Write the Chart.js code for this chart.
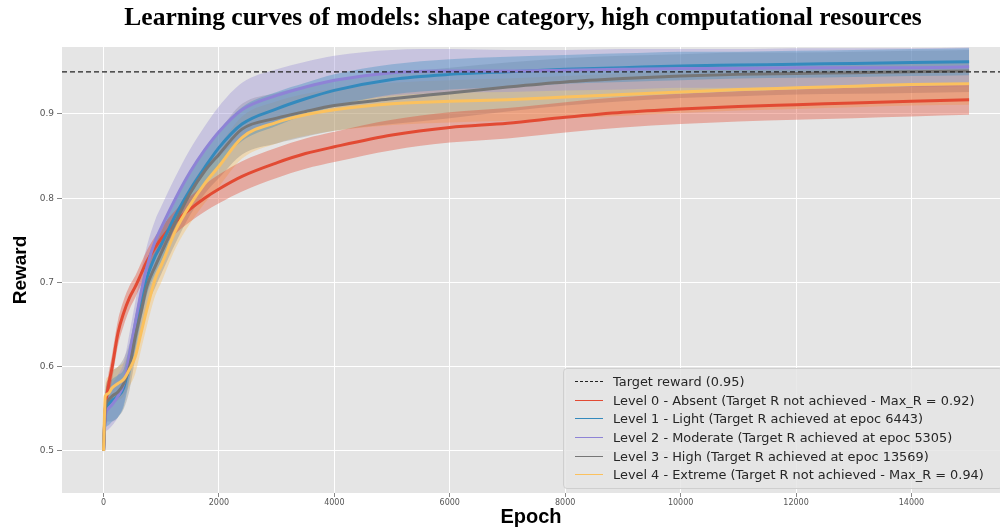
<!DOCTYPE html>
<html>
<head>
<meta charset="utf-8">
<script src="https://cdn.jsdelivr.net/npm/chart.js@4.4.1/dist/chart.umd.min.js"></script>
<style>
  html, body { margin: 0; padding: 0; background: #ffffff; }
  #wrap { position: relative; width: 1000px; height: 531px; overflow: hidden; }
  #title { position: absolute; left: 0; top: 3px; width: 1046px; height: 28px; line-height: 28px;
           text-align: center; font-family: "Liberation Serif", serif; font-weight: bold; font-size: 25.5px; color: #000; }
  #legend { position: absolute; left: 563px; top: 368px; width: 440px; height: 121px; box-sizing: border-box;
            border: 1px solid #cfcfcf; border-radius: 4px; background: rgba(229,229,229,0.85);
            padding-top: 3px; font-family: "DejaVu Sans", sans-serif; font-size: 12.9px; color: #262626; }
  .row { height: 18.7px; display: flex; align-items: center; white-space: nowrap; }
  .handle { width: 28px; margin-left: 11px; margin-right: 10px; height: 0; }
</style>
</head>
<body>
<div id="wrap">
  <canvas id="c" width="1000" height="531"></canvas>
  <div id="title">Learning curves of models: shape category, high computational resources</div>
  <div id="legend"></div>
</div>
<script>
// ---------- DATA ----------
const epochs = [0, 30, 80, 150, 250, 350, 450, 550, 650, 750, 900, 1000, 1250, 1500, 1750, 2000, 2400, 3000, 3500, 4000, 5000, 6000, 7000, 8000, 9000, 10000, 11000, 12000, 13000, 14000, 15000];

const level0Mean = [0.50, 0.55, 0.575, 0.60, 0.64, 0.664, 0.682, 0.695, 0.710, 0.725, 0.742, 0.752, 0.772, 0.787, 0.800, 0.811, 0.826, 0.842, 0.853, 0.861, 0.875, 0.884, 0.889, 0.896, 0.902, 0.906, 0.909, 0.911, 0.913, 0.915, 0.917];
const level1Mean = [0.50, 0.545, 0.555, 0.56, 0.565, 0.575, 0.605, 0.64, 0.675, 0.705, 0.732, 0.745, 0.780, 0.810, 0.836, 0.860, 0.888, 0.906, 0.918, 0.928, 0.941, 0.947, 0.950, 0.953, 0.955, 0.957, 0.958, 0.959, 0.960, 0.961, 0.962];
const level2Mean = [0.50, 0.54, 0.55, 0.555, 0.565, 0.58, 0.615, 0.652, 0.688, 0.718, 0.75, 0.765, 0.800, 0.831, 0.857, 0.879, 0.905, 0.922, 0.932, 0.940, 0.949, 0.951, 0.951, 0.952, 0.953, 0.954, 0.954, 0.955, 0.955, 0.955, 0.956];
const level3Mean = [0.50, 0.55, 0.56, 0.565, 0.57, 0.58, 0.60, 0.635, 0.665, 0.695, 0.720, 0.735, 0.772, 0.806, 0.832, 0.852, 0.882, 0.895, 0.903, 0.910, 0.918, 0.925, 0.932, 0.938, 0.942, 0.945, 0.947, 0.948, 0.949, 0.950, 0.951];
const level4Mean = [0.50, 0.565, 0.568, 0.575, 0.58, 0.585, 0.597, 0.612, 0.64, 0.668, 0.705, 0.720, 0.762, 0.792, 0.817, 0.838, 0.872, 0.890, 0.899, 0.905, 0.912, 0.915, 0.917, 0.920, 0.923, 0.926, 0.929, 0.931, 0.933, 0.935, 0.936];

const level0Std = [0.003, 0.012, 0.014, 0.015, 0.015, 0.015, 0.014, 0.013, 0.013, 0.013, 0.013, 0.013, 0.014, 0.015, 0.016, 0.017, 0.018, 0.018, 0.018, 0.018, 0.018, 0.018, 0.018, 0.018, 0.018, 0.018, 0.018, 0.018, 0.018, 0.018, 0.018];
const level1Std = [0.003, 0.02, 0.025, 0.025, 0.025, 0.022, 0.02, 0.02, 0.02, 0.02, 0.02, 0.02, 0.02, 0.02, 0.02, 0.02, 0.02, 0.02, 0.019, 0.019, 0.018, 0.018, 0.018, 0.017, 0.017, 0.017, 0.016, 0.016, 0.016, 0.016, 0.016];
const level2Std = [0.003, 0.02, 0.025, 0.025, 0.025, 0.025, 0.025, 0.025, 0.025, 0.025, 0.025, 0.025, 0.026, 0.027, 0.028, 0.03, 0.032, 0.031, 0.03, 0.029, 0.027, 0.026, 0.025, 0.024, 0.024, 0.023, 0.023, 0.023, 0.023, 0.023, 0.023];
const level3Std = [0.003, 0.02, 0.025, 0.03, 0.03, 0.03, 0.028, 0.025, 0.025, 0.025, 0.025, 0.025, 0.025, 0.026, 0.027, 0.028, 0.03, 0.03, 0.03, 0.03, 0.03, 0.03, 0.029, 0.028, 0.027, 0.026, 0.026, 0.025, 0.025, 0.025, 0.025];
const level4Std = [0.003, 0.015, 0.02, 0.02, 0.02, 0.02, 0.02, 0.02, 0.02, 0.02, 0.02, 0.02, 0.021, 0.022, 0.023, 0.024, 0.025, 0.025, 0.025, 0.025, 0.025, 0.025, 0.025, 0.025, 0.025, 0.025, 0.025, 0.025, 0.025, 0.025, 0.025];

const targetReward = 0.95;
const seriesLabels = [
  "Level 0 - Absent (Target R not achieved - Max_R = 0.92)",
  "Level 1 - Light (Target R achieved at epoc 6443)",
  "Level 2 - Moderate (Target R achieved at epoc 5305)",
  "Level 3 - High (Target R achieved at epoc 13569)",
  "Level 4 - Extreme (Target R not achieved - Max_R = 0.94)"
];
const targetLabel = "Target reward (0.95)";
const xTicks = [0, 2000, 4000, 6000, 8000, 10000, 12000, 14000];
const yTicks = [0.5, 0.6, 0.7, 0.8, 0.9];

// ---------- STYLE ----------
const lineColors = ["#E24A33", "#348ABD", "#8E83D6", "#777777", "#FBC15E"];
const fillColors = ["rgba(226,74,51,0.38)", "rgba(52,138,189,0.35)", "rgba(152,142,213,0.38)", "rgba(119,119,119,0.30)", "rgba(251,193,94,0.38)"];
const X_MIN = -720, X_MAX = 15535, Y_MIN = 0.45, Y_MAX = 0.9795;

const means = [level0Mean, level1Mean, level2Mean, level3Mean, level4Mean];
const stds = [level0Std, level1Std, level2Std, level3Std, level4Std];

const datasets = [];
means.forEach((m, i) => {
  const s = stds[i];
  datasets.push({
    label: "upper" + i, data: epochs.map((e, k) => ({x: e, y: m[k] + s[k]})),
    borderWidth: 0, pointRadius: 0, fill: false, order: 20 + i, cubicInterpolationMode: 'monotone'
  });
  datasets.push({
    label: "lower" + i, data: epochs.map((e, k) => ({x: e, y: m[k] - s[k]})),
    borderWidth: 0, pointRadius: 0, fill: '-1', backgroundColor: fillColors[i], order: 20 + i, cubicInterpolationMode: 'monotone'
  });
});
means.forEach((m, i) => {
  datasets.push({
    label: seriesLabels[i], data: epochs.map((e, k) => ({x: e, y: m[k]})),
    borderColor: lineColors[i], borderWidth: 3, pointRadius: 0, fill: false, order: 5 - i,
    cubicInterpolationMode: 'monotone'
  });
});
datasets.push({
  label: targetLabel, data: [{x: X_MIN, y: targetReward}, {x: X_MAX, y: targetReward}],
  borderColor: "#222222", borderWidth: 1.4, borderDash: [5, 3], pointRadius: 0, fill: false, order: 0
});

const bgPlugin = {
  id: 'plotBg',
  beforeDraw(chart) {
    const {ctx, chartArea: a} = chart;
    ctx.save();
    ctx.fillStyle = "#E5E5E5";
    ctx.fillRect(a.left, a.top, a.right - a.left, a.bottom - a.top);
    ctx.restore();
  }
};

new Chart(document.getElementById('c'), {
  type: 'line',
  data: { datasets },
  plugins: [bgPlugin],
  options: {
    responsive: false, animation: false,
    layout: { padding: { top: 47, right: 0, left: 0, bottom: 0 } },
    plugins: { legend: { display: false }, tooltip: { enabled: false }, title: { display: false } },
    scales: {
      x: {
        type: 'linear', min: X_MIN, max: X_MAX,
        afterBuildTicks(scale) { scale.ticks = xTicks.map(v => ({value: v})); },
        afterFit(scale) { scale.height = 38; },
        grid: { color: "#ffffff", lineWidth: 1, tickColor: "#888888", tickLength: 4, drawTicks: true },
        border: { display: false },
        ticks: { color: "#555555", font: { family: "DejaVu Sans", size: 8 }, padding: 1, maxRotation: 0,
                 callback: v => String(v) },
        title: { display: true, text: "Epoch", color: "#000", font: { family: "Liberation Sans", weight: "bold", size: 20 },
                 padding: { top: 0, bottom: 2 } }
      },
      y: {
        type: 'linear', min: Y_MIN, max: Y_MAX,
        afterBuildTicks(scale) { scale.ticks = yTicks.map(v => ({value: v})); },
        afterFit(scale) { scale.width = 62; },
        grid: { color: "#ffffff", lineWidth: 1, tickColor: "#888888", tickLength: 5, drawTicks: true },
        border: { display: false },
        ticks: { color: "#555555", font: { family: "DejaVu Sans", size: 9 }, padding: 3,
                 callback: v => v.toFixed(1) },
        title: { display: true, text: "Reward", color: "#000", font: { family: "Liberation Sans", weight: "bold", size: 19 },
                 padding: { top: 9, bottom: 0 } }
      }
    }
  }
});

// ---------- LEGEND (HTML text) ----------
const leg = document.getElementById('legend');
const entries = [{label: targetLabel, color: "#222222", dash: true}].concat(
  seriesLabels.map((l, i) => ({label: l, color: lineColors[i], dash: false})));
entries.forEach(en => {
  const row = document.createElement('div'); row.className = 'row';
  const h = document.createElement('div'); h.className = 'handle';
  h.style.borderTop = en.dash ? "1.5px dashed " + en.color : "1.5px solid " + en.color;
  const t = document.createElement('span'); t.textContent = en.label;
  row.appendChild(h); row.appendChild(t); leg.appendChild(row);
});
</script>
</body>
</html>
